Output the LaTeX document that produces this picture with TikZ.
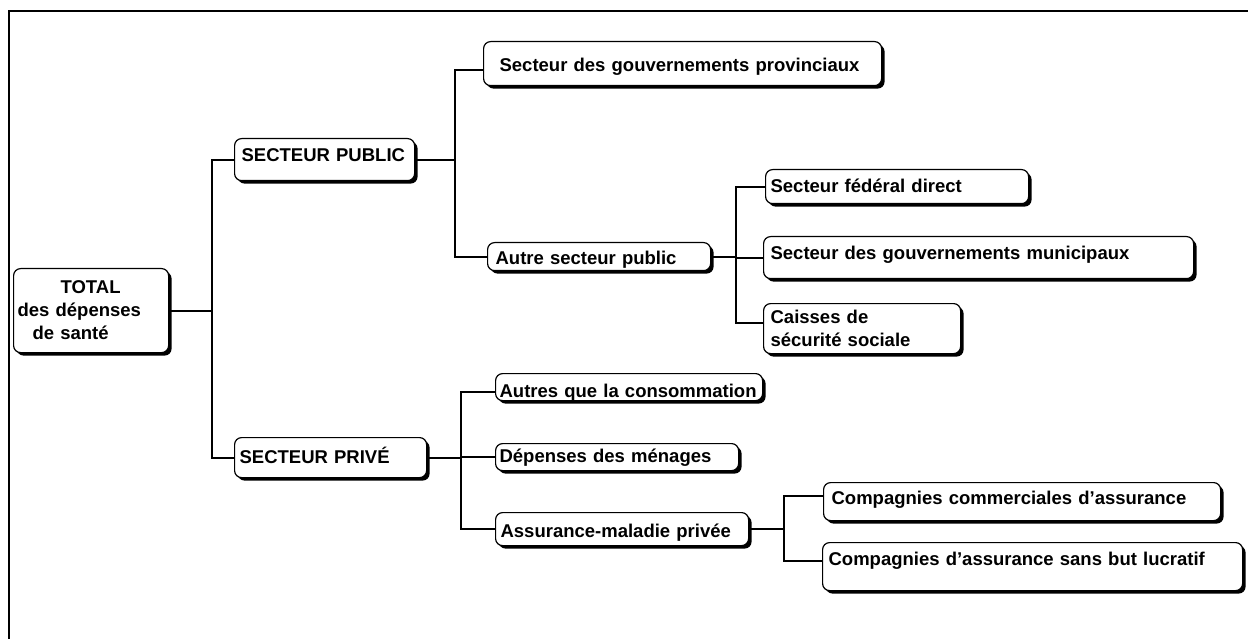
\documentclass[tikz,border=0pt]{standalone}
\usepackage{fontspec}
\setmainfont{Liberation Sans}
\usetikzlibrary{shadows, calc}
\newcommand\lbl{\fontsize{18.5}{23}\selectfont\bfseries}

\tikzset{
  box/.style={draw=black, line width=1.2pt, rounded corners=7pt, fill=white,
    anchor=north west, inner ysep=0pt, align=left, font=\lbl,
    drop shadow={shadow xshift=3pt, shadow yshift=-3pt, fill=black, opacity=1}},
  link/.style={line width=2pt},
}

\begin{document}
\begin{tikzpicture}[x=1pt, y=-1pt]
        \useasboundingbox (0,0) rectangle (1248,639);
        % Frame
        \draw[line width=2pt] (1248,11) -- (9,11) -- (9,639);

        % Root
        \node[box, minimum width=155pt, minimum height=84pt, inner xsep=4pt, text width=147pt] (total) at (13,268)
            {\hspace*{43pt}TOTAL\\des dépenses\\\hspace*{15pt}de santé};

        % Sectors
        \node[box, minimum width=180pt, minimum height=42pt, inner xsep=7pt, text width=166pt,
            text height=22.6pt, text depth=19.4pt] (pub) at (234,138) {SECTEUR PUBLIC};
        \node[box, minimum width=192pt, minimum height=40pt, inner xsep=5pt, text width=182pt,
            text height=25.6pt, text depth=14.4pt] (priv) at (234,437) {SECTEUR PRIVÉ};

        % Public branch
        \node[box, minimum width=398pt, minimum height=44pt, inner xsep=16pt, text width=366pt,
            text height=29.6pt, text depth=14.4pt] (prov) at (483,41) {Secteur des gouvernements provinciaux};
        \node[box, minimum width=223pt, minimum height=28pt, inner xsep=8pt, text width=207pt,
            text height=21.6pt, text depth=6.4pt] (autre) at (487,242) {Autre secteur public};
        \node[box, minimum width=263pt, minimum height=34pt, inner xsep=5pt, text width=253pt,
            text height=22.6pt, text depth=11.4pt] (fed) at (765,169) {Secteur fédéral direct};
        \node[box, minimum width=430pt, minimum height=42pt, inner xsep=7pt, text width=416pt,
            text height=22.6pt, text depth=19.4pt] (mun) at (763,236) {Secteur des gouvernements municipaux};
        \node[box, minimum width=197pt, minimum height=50pt, inner xsep=7pt, text width=183pt] (caisses) at (763,303)
            {Caisses de\\sécurité sociale};

        % Private branch
        \node[box, minimum width=267pt, minimum height=27pt, inner xsep=4pt, text width=259pt,
            text height=23.6pt, text depth=3.4pt] (autres) at (495,373) {Autres que la consommation};
        \node[box, minimum width=243pt, minimum height=27pt, inner xsep=4pt, text width=235pt,
            text height=18.6pt, text depth=8.4pt] (dep) at (495,443) {Dépenses des ménages};
        \node[box, minimum width=253pt, minimum height=33pt, inner xsep=5pt, text width=243pt,
            text height=24.6pt, text depth=8.4pt] (assur) at (495,512) {Assurance-maladie privée};
        \node[box, minimum width=397pt, minimum height=38pt, inner xsep=8pt, text width=381pt,
            text height=21.6pt, text depth=16.4pt] (comm) at (823,482) {Compagnies commerciales d’assurance};
        \node[box, minimum width=420pt, minimum height=48pt, inner xsep=6pt, text width=408pt,
            text height=22.6pt, text depth=25.4pt] (lucr) at (822,542) {Compagnies d’assurance sans but lucratif};

        % Junctions
        \coordinate (jt) at (212,313);
        \coordinate (jp) at (455,163);
        \coordinate (ja) at (736,257);
        \coordinate (jv) at (461,459);
        \coordinate (jm) at (784,530);

        % Connectors
        \draw[link] (total.east) -- (total.east -| jt);
        \draw[link] (pub.west) -| (jt) |- (priv.west);

        \draw[link] (pub.east) -- (pub.east -| jp);
        \draw[link] ([yshift=-6pt]prov.west) -| (jp) |- (autre.west);

        \draw[link] (autre.east) -- (autre.east -| ja);
        \draw[link] (fed.west) -| (ja) |- ([yshift=6pt]caisses.west);
        \draw[link] (mun.west) -- (mun.west -| ja);

        \draw[link] (priv.east) -- (priv.east -| jv);
        \draw[link] ([yshift=-5pt]autres.west) -| (jv) |- (assur.west);
        \draw[link] (dep.west) -- (dep.west -| jv);

        \draw[link] (assur.east) -- (assur.east -| jm);
        \draw[link] ([yshift=6pt]comm.west) -| (jm) |- ([yshift=6pt]lucr.west);
    \end{tikzpicture}
\end{document}
